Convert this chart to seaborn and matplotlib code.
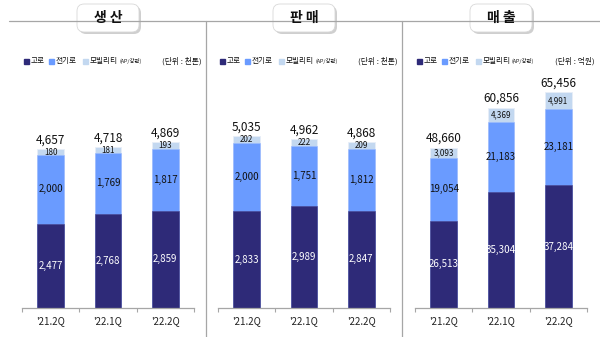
import matplotlib
matplotlib.use("Agg")
import matplotlib.pyplot as plt
import seaborn as sns
import numpy as np
import pandas as pd
from matplotlib.patches import FancyBboxPatch, Rectangle
from matplotlib.lines import Line2D

categories = ["'21.2Q", "'22.1Q", "'22.2Q"]

prod_blast = [2477, 2768, 2859]
prod_electric = [2000, 1769, 1817]
prod_mobility = [180, 181, 193]
prod_total = [4657, 4718, 4869]

sales_blast = [2833, 2989, 2847]
sales_electric = [2000, 1751, 1812]
sales_mobility = [202, 222, 209]
sales_total = [5035, 4962, 4868]

rev_blast = [26513, 35304, 37284]
rev_electric = [19054, 21183, 23181]
rev_mobility = [3093, 4369, 4991]
rev_total = [48660, 60856, 65456]

titles = ["생 산", "판 매", "매 출"]
units = ["(단위 : 천톤)", "(단위 : 천톤)", "(단위 : 억원)"]
legend_labels = ["고로", "전기로", "모빌리티"]
legend_sub = "(AP/강관)"

C_DARK = "#2E2A78"
C_MID = "#6A9BFF"
C_LIGHT = "#C3D8F0"

sns.set_theme(style="white")
plt.rcParams['font.family'] = ['Noto Sans CJK KR', 'DejaVu Sans']

W, H = 600, 337
fig = plt.figure(figsize=(6, 3.37), dpi=100)
fig.patch.set_facecolor("white")

def fx(px):
    return px / W

def fy(py):
    return 1 - py / H

panels = [
    (prod_blast, prod_electric, prod_mobility, prod_total, 22, 6393),
    (sales_blast, sales_electric, sales_mobility, sales_total, 218, 6393),
    (rev_blast, rev_electric, rev_mobility, rev_total, 415, 66180),
]

ax_w = 172
ax_top, ax_bot = 90, 308

# header line and separators
fig.add_artist(Line2D([fx(9), fx(600)], [fy(21), fy(21)], color="#A6A6A6", lw=0.9, transform=fig.transFigure))
for sx in [205.5, 402.5]:
    fig.add_artist(Line2D([fx(sx), fx(sx)], [fy(21), fy(337)], color="#A6A6A6", lw=0.9, transform=fig.transFigure))

for i, (blast, elec, mob, total, left, ymax) in enumerate(panels):
    ax = fig.add_axes([fx(left), fy(ax_bot), ax_w / W, (ax_bot - ax_top) / H])
    df = pd.DataFrame({
        "cat": categories,
        "blast": blast,
        "elec": elec,
        "mob": mob,
    })
    df["c2"] = df["blast"] + df["elec"]
    df["c3"] = df["c2"] + df["mob"]
    sns.barplot(data=df, x="cat", y="c3", color=C_LIGHT, saturation=1, width=0.47, ax=ax,
                edgecolor="#E8EEF8", linewidth=0.6, order=categories)
    sns.barplot(data=df, x="cat", y="c2", color=C_MID, saturation=1, width=0.47, ax=ax,
                edgecolor="#9DBBFF", linewidth=0.4, order=categories)
    sns.barplot(data=df, x="cat", y="blast", color=C_DARK, saturation=1, width=0.47, ax=ax,
                edgecolor="#4A4790", linewidth=0.4, order=categories)
    ax.set_xlim(-0.5, 2.5)
    ax.set_ylim(0, ymax)
    ax.set_xlabel("")
    ax.set_ylabel("")
    ax.set_yticks([])
    for s in ["top", "right", "left"]:
        ax.spines[s].set_visible(False)
    ax.spines["bottom"].set_color("#A6A6A6")
    ax.spines["bottom"].set_linewidth(0.9)
    ax.set_xticks(range(3))
    ax.set_xticklabels(categories, fontsize=7, color="#222222")
    ax.tick_params(axis="x", length=0, pad=6)
    ax.set_xticks([-0.5, 0.5, 1.5, 2.5], minor=True)
    ax.tick_params(axis="x", which="minor", length=3, width=0.8, color="#A6A6A6", direction="out", bottom=True)

    for j in range(3):
        b, e, m, t = blast[j], elec[j], mob[j], total[j]
        ax.text(j, b / 2, f"{b:,}", ha="center", va="center", fontsize=7, color="white")
        ax.text(j, b + e / 2, f"{e:,}", ha="center", va="center", fontsize=7, color="#111111")
        ax.text(j, b + e + m / 2, f"{m:,}", ha="center", va="center", fontsize=5.8, color="#111111")
        ax.text(j, t + ymax * 0.012, f"{t:,}", ha="center", va="bottom", fontsize=8.5, color="#111111")

    # legend (manual)
    ly = 61
    sq = 5
    items = [(left + 2, C_DARK, legend_labels[0]), (left + 27, C_MID, legend_labels[1]), (left + 61, C_LIGHT, legend_labels[2])]
    for k, (sx, col, lab) in enumerate(items):
        fig.add_artist(Rectangle((fx(sx), fy(ly + sq / 2)), sq / W, sq / H, color=col, transform=fig.transFigure))
        fig.text(fx(sx + 6.5), fy(ly), lab, fontsize=5.5, va="center", ha="left", color="#111111")
    fig.text(fx(left + 97), fy(ly), legend_sub, fontsize=3.9, va="center", ha="left", color="#111111")
    fig.text(fx(left + ax_w + 8), fy(ly), units[i], fontsize=5.6, va="center", ha="right", color="#111111")

    # title box
    cx = left + ax_w / 2
    bw, bh = 62, 28
    shadow = FancyBboxPatch((fx(cx - bw / 2 + 2), fy(4 + bh + 2)), bw / W, bh / H,
                            boxstyle="round,pad=0,rounding_size=0.012", transform=fig.transFigure,
                            facecolor="#CFCFCF", edgecolor="none", mutation_aspect=W / H)
    fig.add_artist(shadow)
    box = FancyBboxPatch((fx(cx - bw / 2), fy(4 + bh)), bw / W, bh / H,
                         boxstyle="round,pad=0,rounding_size=0.012", transform=fig.transFigure,
                         facecolor="white", edgecolor="#D8D8D8", linewidth=0.6, mutation_aspect=W / H)
    fig.add_artist(box)
    fig.text(fx(cx), fy(4 + bh / 2), titles[i], fontsize=10, fontweight="bold", ha="center", va="center", color="#111111")

fig.savefig("out.png", dpi=100)
